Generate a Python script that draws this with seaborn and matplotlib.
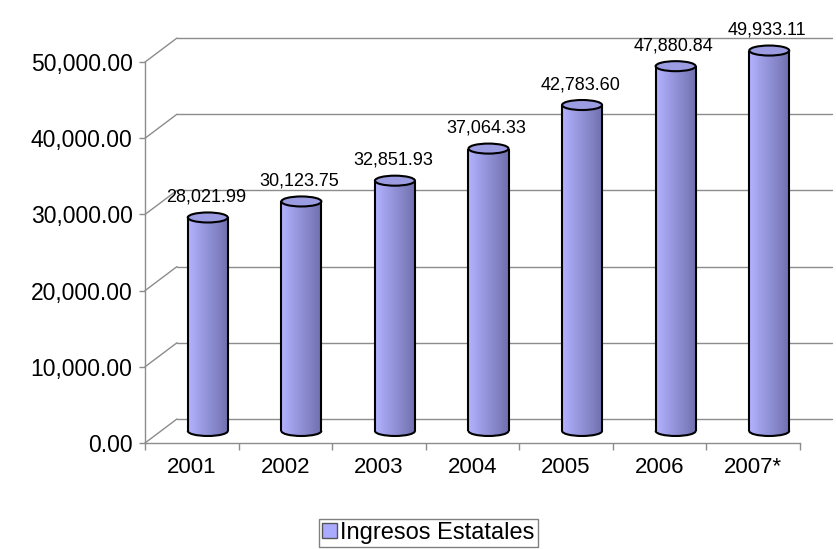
import numpy as np
import seaborn as sns
import matplotlib.pyplot as plt
from matplotlib import font_manager
from matplotlib.patches import Ellipse, Arc, Patch
from matplotlib.colors import to_rgb

# datos del grafico
anios = ["2001", "2002", "2003", "2004", "2005", "2006", "2007*"]
ingresos = [28021.99, 30123.75, 32851.93, 37064.33, 42783.60, 47880.84, 49933.11]
serie = "Ingresos Estatales"
marcas_y = [0, 10000, 20000, 30000, 40000, 50000]

sns.set_style("white")
plt.rcParams["font.family"] = ["Liberation Sans", "DejaVu Sans"]
plt.rcParams["text.color"] = "black"

instaladas = {f.name for f in font_manager.fontManager.ttflist}
if "Liberation Sans Narrow" in instaladas:
    fuente_estrecha, tam_x, tam_leyenda = "Liberation Sans Narrow", 19, 21
else:
    fuente_estrecha, tam_x, tam_leyenda = "Liberation Sans", 16, 17

fig = plt.figure(figsize=(8.37, 5.49), dpi=100)
ax = fig.add_axes([145 / 837, 106 / 549, 687 / 837, 405 / 549])

# profundidad del efecto 3D (en unidades de datos)
dx = 0.342
dy = 3158
ancho = 0.4275
alto_elipse = 1316
base = dy / 2

c_izq = np.array(to_rgb("#b2b2ff"))
c_der = np.array(to_rgb("#6f6fae"))
c_tapa = "#9c9ce2"
gris = "#8c8c8c"

sns.barplot(x=anios, y=ingresos, width=ancho, color=c_tapa, errorbar=None, ax=ax)

grad = np.linspace(0, 1, 256)[:, None] * (c_der - c_izq) + c_izq
grad = grad[None, :, :]

for barra, valor in zip(ax.patches, ingresos):
    barra.set_x(barra.get_x() + dx / 2)
    barra.set_y(base)
    barra.set_facecolor("none")
    barra.set_edgecolor("none")
    x0 = barra.get_x()
    x1 = x0 + barra.get_width()
    cx = (x0 + x1) / 2
    tope = base + valor

    elipse_base = Ellipse((cx, base), x1 - x0, alto_elipse, facecolor="none", edgecolor="none")
    ax.add_patch(elipse_base)
    for clip in (barra, elipse_base):
        im = ax.imshow(grad, extent=[x0, x1, base - alto_elipse, tope], aspect="auto",
                       interpolation="bilinear", zorder=2)
        im.set_clip_path(clip)

    ax.plot([x0, x0], [base, tope], color="black", lw=1.5, zorder=3, solid_capstyle="butt")
    ax.plot([x1, x1], [base, tope], color="black", lw=1.5, zorder=3, solid_capstyle="butt")
    ax.add_patch(Arc((cx, base), x1 - x0, alto_elipse, theta1=180, theta2=360,
                     color="black", lw=1.5, zorder=3))
    ax.add_patch(Ellipse((cx, tope), x1 - x0, alto_elipse, facecolor=c_tapa,
                         edgecolor="black", lw=1.5, zorder=4))
    ax.text(cx - 0.02, tope + 2100, f"{valor:,.2f}", ha="center", va="baseline",
            fontsize=13, color="black", zorder=5)

# pared del fondo y lineas de division
n = len(anios)
for t in marcas_y:
    ax.plot([-0.5, -0.5 + dx], [t, t + dy], color=gris, lw=1, zorder=0.5, clip_on=False)
    ax.plot([-0.5 + dx, n - 0.5 + dx], [t + dy, t + dy], color=gris, lw=1, zorder=0.5,
            clip_on=False)

ax.set_xlim(-0.5, n - 0.5 + dx)
ax.set_ylim(0, marcas_y[-1] + dy)

for lado in ["top", "right"]:
    ax.spines[lado].set_visible(False)
ax.spines["left"].set_bounds(0, marcas_y[-1])
ax.spines["bottom"].set_bounds(-0.5, n - 0.5)
for lado in ["left", "bottom"]:
    ax.spines[lado].set_color(gris)
    ax.spines[lado].set_linewidth(1)

ax.set_yticks(marcas_y)
ax.set_yticklabels([f"{t:,.2f}" for t in marcas_y])
ax.tick_params(axis="y", length=4, width=1, color=gris, direction="out", pad=5,
               labelsize=16.5, labelcolor="black", left=True)

ax.set_xticks(range(n))
ax.set_xticklabels(anios, fontsize=tam_x, family=[fuente_estrecha, "DejaVu Sans"])
ax.set_xticks(np.arange(n + 1) - 0.5, minor=True)
ax.tick_params(axis="x", which="major", length=0, pad=10, labelcolor="black")
ax.tick_params(axis="x", which="minor", length=5, width=1, color=gris, direction="out",
               bottom=True)
ax.set_xlabel("")
ax.set_ylabel("")
ax.grid(False)

fig.legend(handles=[Patch(facecolor="#aaaaff", edgecolor="#555555", lw=1)],
           labels=[serie], loc="lower center", bbox_to_anchor=(0.512, 0.0),
           frameon=True, fancybox=False, edgecolor="#808080", framealpha=1,
           prop={"family": [fuente_estrecha, "DejaVu Sans"], "size": tam_leyenda},
           handlelength=0.62, handleheight=0.62, handletextpad=0.15,
           borderpad=0.12, borderaxespad=0.1)

fig.savefig("out.png", dpi=100)
